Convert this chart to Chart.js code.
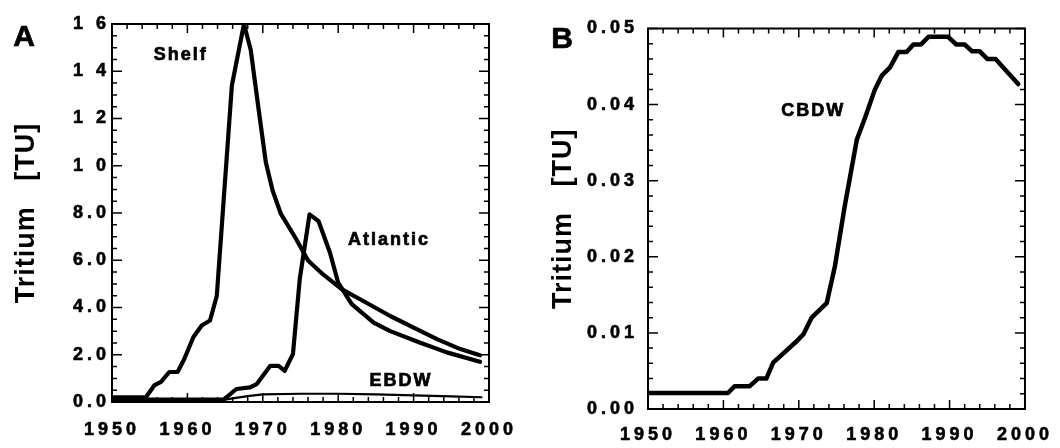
<!DOCTYPE html>
<html>
<head>
<meta charset="utf-8">
<script src="https://cdn.jsdelivr.net/npm/chart.js@4.4.1/dist/chart.umd.min.js"></script>
<style>
  html, body { margin: 0; padding: 0; background: #fff; }
  #wrap { position: relative; width: 1060px; height: 448px; }
  canvas { position: absolute; top: 0; }
</style>
</head>
<body>
<div id="wrap">
  <canvas id="chartA" width="530" height="448" style="left:0"></canvas>
  <canvas id="chartB" width="530" height="448" style="left:530px"></canvas>
</div>
<script>
// ---- Panel A : tritium in shelf / Atlantic / EBDW ----
const shelfYears  = [1950, 1954.5, 1955.6, 1956.5, 1957.6, 1958.7, 1959.6, 1960.8, 1961.9, 1963.0, 1963.9, 1965.9, 1967.5, 1968.4, 1969.5, 1970.4, 1971.3, 1972.4, 1974.4, 1976.0, 1978.0, 1980.5, 1982.9, 1986.9, 1990.0, 1993.1, 1996.2, 1998.8];
const shelfValues = [0.2, 0.2, 0.7, 0.85, 1.27, 1.27, 1.83, 2.75, 3.24, 3.45, 4.5, 13.4, 16.0, 14.9, 12.26, 10.15, 8.95, 7.96, 6.91, 5.99, 5.4, 4.77, 4.35, 3.64, 3.15, 2.66, 2.24, 1.98];

const atlanticYears  = [1950, 1964.8, 1966.5, 1968.3, 1969.2, 1971.0, 1972.1, 1972.9, 1974.0, 1974.9, 1976.2, 1977.4, 1978.9, 1980.0, 1981.1, 1981.8, 1984.7, 1986.9, 1990.8, 1994.4, 1998.8];
const atlanticValues = [0.1, 0.1, 0.55, 0.62, 0.76, 1.53, 1.53, 1.32, 2.03, 5.2, 7.94, 7.65, 6.33, 5.05, 4.49, 4.14, 3.36, 3.0, 2.52, 2.1, 1.7];

const ebdwYears  = [1950, 1964, 1966, 1968, 1970, 1975, 1980, 1985, 1990, 1995, 1999];
const ebdwValues = [0.05, 0.05, 0.15, 0.25, 0.32, 0.35, 0.35, 0.32, 0.28, 0.24, 0.2];

// ---- Panel B : tritium in CBDW ----
const cbdwYears  = [1950, 1960.6, 1961.5, 1963.5, 1964.6, 1965.7, 1966.6, 1969.5, 1970.6, 1971.7, 1973.7, 1974.8, 1976.1, 1977.7, 1978.8, 1980.1, 1981.0, 1982.1, 1983.2, 1984.3, 1985.2, 1986.2, 1987.2, 1989.8, 1990.9, 1992.0, 1993.0, 1994.0, 1995.0, 1996.1, 1999.1];
const cbdwValues = [0.0021, 0.0021, 0.0030, 0.0030, 0.0040, 0.0040, 0.0061, 0.0087, 0.0098, 0.0120, 0.0139, 0.0188, 0.0267, 0.0354, 0.0383, 0.0420, 0.0438, 0.0449, 0.0469, 0.0469, 0.0479, 0.0479, 0.0489, 0.0489, 0.0479, 0.0479, 0.0470, 0.0470, 0.0460, 0.0460, 0.0427];

const yTicksA = ['0.0', '2.0', '4.0', '6.0', '8.0', '1 0', '1 2', '1 4', '1 6'];
const yTicksB = ['0.00', '0.01', '0.02', '0.03', '0.04', '0.05'];

const FONT = "'Liberation Sans', Arial, Helvetica, sans-serif";

function pts(xs, ys) {
    return xs.map((x, i) => ({ x: x, y: ys[i] }));
}

// letter spacing: small for axis title, wide for tick labels (drawn after datasets, z=1)
const spacingPlugin = {
    id: 'spacing',
    beforeDraw(chart) { chart.ctx.letterSpacing = '1px'; },
    afterDatasetsDraw(chart) { chart.ctx.letterSpacing = '4px'; }
};

// frame + inward ticks on all four sides, plus text labels
const framePlugin = {
    id: 'frame',
    afterDraw(chart, args, opts) {
        const ctx = chart.ctx;
        const a = chart.chartArea;
        const xs = chart.scales.x, ys = chart.scales.y;
        ctx.save();
        ctx.letterSpacing = '0px';
        ctx.strokeStyle = '#000';
        ctx.lineWidth = 2;
        ctx.strokeRect(a.left, a.top, a.right - a.left, a.bottom - a.top);

        ctx.lineWidth = 1.5;
        ctx.beginPath();
        const nx = Math.round((xs.max - xs.min) / opts.xMinor);
        for (let i = 0; i <= nx; i++) {
            const p = xs.getPixelForValue(xs.min + i * opts.xMinor);
            const len = (i % opts.xEvery === 0) ? 9 : 5;
            ctx.moveTo(p, a.bottom); ctx.lineTo(p, a.bottom - len);
            ctx.moveTo(p, a.top); ctx.lineTo(p, a.top + len);
        }
        const ny = Math.round((ys.max - ys.min) / opts.yMinor);
        for (let i = 0; i <= ny; i++) {
            const p = ys.getPixelForValue(ys.min + i * opts.yMinor);
            const len = (i % opts.yEvery === 0) ? 10 : 5;
            ctx.moveTo(a.left, p); ctx.lineTo(a.left + len, p);
            ctx.moveTo(a.right, p); ctx.lineTo(a.right - len, p);
        }
        ctx.stroke();

        ctx.fillStyle = '#000';
        ctx.textAlign = 'center';
        ctx.textBaseline = 'middle';
        ctx.lineWidth = 0.7;
        // curve names, placed in data units
        ctx.font = 'bold 18px ' + FONT;
        ctx.letterSpacing = '2px';
        opts.notes.forEach(n => {
            const px = xs.getPixelForValue(n.x) + 1, py = ys.getPixelForValue(n.y);
            ctx.fillText(n.text, px, py);
            ctx.strokeText(n.text, px, py);
        });
        // panel letter
        ctx.letterSpacing = '0px';
        ctx.font = 'bold 30px ' + FONT;
        ctx.fillText(opts.letter.text, opts.letter.x, opts.letter.y);
        ctx.strokeText(opts.letter.text, opts.letter.x, opts.letter.y);
        ctx.restore();
    }
};

function lineSet(label, xs, ys, width) {
    return {
        label: label,
        data: pts(xs, ys),
        borderColor: '#000',
        borderWidth: width,
        pointRadius: 0,
        tension: 0,
        fill: false,
        borderJoinStyle: 'round',
        borderCapStyle: 'round'
    };
}

function makeOptions(cfg) {
    return {
        responsive: false,
        animation: false,
        layout: { autoPadding: false, padding: cfg.padding },
        plugins: {
            legend: { display: false },
            tooltip: { enabled: false },
            frame: cfg.frame
        },
        scales: {
            x: {
                type: 'linear',
                min: 1950, max: 2000,
                grid: { display: false, drawTicks: false },
                border: { display: false },
                afterFit: s => { s.height = cfg.xHeight; },
                ticks: {
                    z: 1,
                    stepSize: 10,
                    padding: cfg.xPad,
                    color: '#000',
                    textStrokeColor: '#000',
                    textStrokeWidth: 0.6,
                    maxRotation: 0,
                    font: { family: FONT, size: 18, weight: 'bold' },
                    callback: v => String(v)
                }
            },
            y: {
                min: 0, max: cfg.yMax,
                grid: { display: false, drawTicks: false },
                border: { display: false },
                afterFit: s => { s.width = cfg.yWidth; },
                title: {
                    display: true,
                    text: 'Tritium   [TU]',
                    color: '#000',
                    font: { family: FONT, size: 27, weight: 'bold' },
                    padding: { top: cfg.titlePad, bottom: 0 }
                },
                ticks: {
                    z: 1,
                    stepSize: cfg.yStep,
                    padding: cfg.yPad,
                    color: '#000',
                    textStrokeColor: '#000',
                    textStrokeWidth: 0.6,
                    font: { family: FONT, size: 18, weight: 'bold' },
                    callback: (v, i) => cfg.yLabels[i]
                }
            }
        }
    };
}

Chart.register(spacingPlugin, framePlugin);

new Chart(document.getElementById('chartA'), {
    type: 'line',
    data: {
        datasets: [
            lineSet('Shelf', shelfYears, shelfValues, 4.2),
            lineSet('Atlantic', atlanticYears, atlanticValues, 4.2),
            lineSet('EBDW', ebdwYears, ebdwValues, 2.2)
        ]
    },
    options: makeOptions({
        padding: { left: 0, top: 24, right: 41, bottom: 0 },
        xHeight: 46, yWidth: 112, xPad: 17, yPad: 2, titlePad: 10,
        yMax: 16, yStep: 2, yLabels: yTicksA,
        frame: {
            xMinor: 2, xEvery: 5, yMinor: 0.5, yEvery: 4,
            notes: [
                { text: 'Shelf', x: 1959, y: 14.7 },
                { text: 'Atlantic', x: 1986.6, y: 6.86 },
                { text: 'EBDW', x: 1988.2, y: 0.87 }
            ],
            letter: { text: 'A', x: 24, y: 38 }
        }
    })
});

new Chart(document.getElementById('chartB'), {
    type: 'line',
    data: {
        datasets: [
            lineSet('CBDW', cbdwYears, cbdwValues, 4.5)
        ]
    },
    options: makeOptions({
        padding: { left: 0, top: 28.5, right: 29, bottom: 0 },
        xHeight: 39, yWidth: 118, xPad: 15, yPad: 10, titlePad: 17,
        yMax: 0.05, yStep: 0.01, yLabels: yTicksB,
        frame: {
            xMinor: 2, xEvery: 5, yMinor: 0.002, yEvery: 5,
            notes: [
                { text: 'CBDW', x: 1971.8, y: 0.0391 }
            ],
            letter: { text: 'B', x: 32, y: 40 }
        }
    })
});
</script>
</body>
</html>
